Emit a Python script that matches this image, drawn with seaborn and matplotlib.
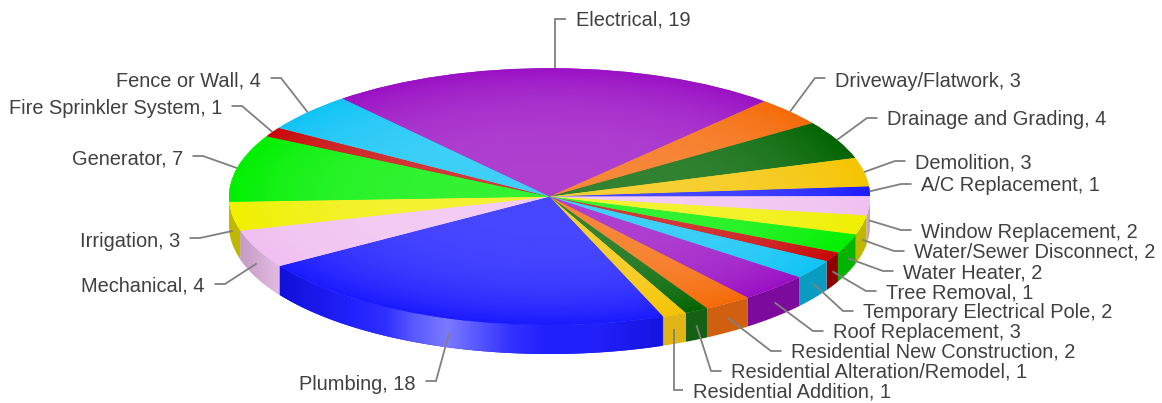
import numpy as np
import matplotlib
matplotlib.use("Agg")
import matplotlib.pyplot as plt
from matplotlib.colors import to_rgb
from matplotlib.patches import Polygon
import seaborn as sns

categories = ["Electrical", "Driveway/Flatwork", "Drainage and Grading", "Demolition",
              "A/C Replacement", "Window Replacement", "Water/Sewer Disconnect", "Water Heater",
              "Tree Removal", "Temporary Electrical Pole", "Roof Replacement",
              "Residential New Construction", "Residential Alteration/Remodel",
              "Residential Addition", "Plumbing", "Mechanical", "Irrigation", "Generator",
              "Fire Sprinkler System", "Fence or Wall"]
values = [19, 3, 4, 3, 1, 2, 2, 2, 1, 2, 3, 2, 1, 1, 18, 4, 3, 7, 1, 4]

base_cycle = ["#9a10c4", "#f56a08", "#006400", "#f5c400", "#1a1aff",
              "#f0c0f0", "#f0f000", "#00f000", "#c80808", "#10c4f5"]
side_cycle = ["#7c0a9c", "#d0600f", "#156015", "#e0b515", "#1c1cf0",
              "#c8a0c8", "#bfb700", "#00b400", "#900000", "#0a9cc0"]

# layout (pixels of the 1162x403 figure)
W, H = 1162, 403
CX, CY, RX, RY, DEPTH = 549.5, 196.6, 320.5, 128.4, 29.0
START = 130.3
label_x = [576, 835, 887, 915, 921, 921, 914, 903, 886, 863, 833, 791, 731, 693,
           416, 205, 180, 183, 222, 261]
label_y = [18.4, 79.4, 117.4, 161.4, 183.4, 230.4, 250.4, 271.4, 291.4, 310.4, 330.4, 350.4,
           370.4, 390.4, 382.4, 284.4, 239.4, 157.4, 106.4, 79.4]
line_y = [19, 78, 118, 161, 184, 230, 251, 271, 291, 311, 331, 351, 371, 390,
          381, 284, 238, 156, 106, 78]
label_side = ["l"] * 14 + ["r"] * 6
plumbing_stops_x = [279, 355, 387, 413, 447, 473, 513, 547, 600, 662]
plumbing_stops = ["#1010d8", "#2222ff", "#3030ff", "#5858ff", "#7a7aff", "#5c5cff",
                  "#3030ff", "#2020ff", "#2020f8", "#1414e0"]
mechanical_stops_x = [240, 279]
mechanical_stops = ["#c49cc4", "#e2bae2"]

sns.set_theme(style="white")
plt.rcParams["font.family"] = ["Liberation Sans", "DejaVu Sans"]

tops = sns.color_palette(base_cycle, len(base_cycle))
sides = sns.color_palette(side_cycle, len(side_cycle))
top_colors = [tops[i % 10] for i in range(len(values))]
side_colors = [sides[i % 10] for i in range(len(values))]


def ux(px):
    return (px - CX) / RX


def uy(py):
    return (CY - py) / RY


fig = plt.figure(figsize=(W / 100, H / 100), dpi=100, facecolor="white")
ax = fig.add_axes([0, 0, 1, 1])
wedges, _ = ax.pie(values, colors=top_colors, startangle=START, counterclock=False,
                   radius=1.0, wedgeprops=dict(linewidth=0, zorder=5))
ax.set_aspect("auto")
xlim = (ux(0), ux(W))
ylim = (uy(H), uy(0))
ax.set_xlim(xlim)
ax.set_ylim(ylim)
ax.axis("off")

# radial shading of the top face
gx = np.linspace(-1.01, 1.01, 1300)
gy = np.linspace(-1.01, 1.01, 520)
XX, YY = np.meshgrid(gx, gy)
RR = np.clip(np.hypot(XX, YY), 0, 1)
for w, col in zip(wedges, top_colors):
    c = np.array(col)
    amt = (0.2 * (1 - RR ** 3.5))[..., None]
    img = c + (1 - c) * amt
    im = ax.imshow(img, extent=(-1.01, 1.01, -1.01, 1.01), origin="lower",
                   aspect="auto", zorder=6, interpolation="bilinear")
    im.set_clip_path(w)
ax.set_xlim(xlim)
ax.set_ylim(ylim)

# side wall
d = DEPTH / RY
for i, (w, col) in enumerate(zip(wedges, side_colors)):
    a1, a2 = w.theta1 % 360, w.theta2 % 360
    if a2 < a1:
        a2 += 360
    segs = [(max(a1, 180), min(a2, 360)), (max(a1, 540), min(a2, 720))]
    for s1, s2 in segs:
        if s2 <= s1:
            continue
        t = np.radians(np.linspace(s1, s2, 200))
        px_, py_ = np.cos(t), np.sin(t)
        poly = np.vstack([np.c_[px_, py_], np.c_[px_[::-1], py_[::-1] - d]])
        patch = Polygon(poly, closed=True, facecolor=col, edgecolor="none", zorder=3)
        ax.add_patch(patch)
        stops_x, stops = None, None
        if categories[i] == "Plumbing":
            stops_x, stops = plumbing_stops_x, plumbing_stops
        elif categories[i] == "Mechanical":
            stops_x, stops = mechanical_stops_x, mechanical_stops
        if stops is not None:
            sx = np.linspace(stops_x[0], stops_x[-1], 500)
            rgb = np.array([to_rgb(c) for c in stops])
            grad = np.stack([np.interp(sx, stops_x, rgb[:, k]) for k in range(3)], axis=-1)[None, ...]
            im = ax.imshow(grad, extent=(ux(stops_x[0]), ux(stops_x[-1]), -1.5, 0.5),
                           origin="lower", aspect="auto", zorder=4, interpolation="bilinear")
            im.set_clip_path(patch)
ax.set_xlim(xlim)
ax.set_ylim(ylim)

# leaders and labels
for i, w in enumerate(wedges):
    mid = np.radians((w.theta1 + w.theta2) / 2)
    ax_, ay_ = np.cos(mid), np.sin(mid)
    if ay_ < -0.02:
        ay_ -= d / 2
    sign = 1 if label_side[i] == "l" else -1
    tx = ux(label_x[i] - sign * 9.5)
    ex = ux(label_x[i] - sign * 20)
    ly = uy(line_y[i])
    if categories[i] == "Electrical":
        ex = ax_
    if categories[i] == "Residential Addition":
        ex = ax_
    ax.plot([ax_, ex, tx], [ay_, ly, ly], color="#808080", lw=1.3, zorder=8,
            solid_joinstyle="miter", solid_capstyle="butt")
    ax.text(ux(label_x[i]), uy(label_y[i]), f"{categories[i]}, {values[i]}",
            ha="left" if sign == 1 else "right", va="center_baseline",
            fontsize=14.4, color="#404040", zorder=9)

fig.savefig("out.png", dpi=100, facecolor="white")
